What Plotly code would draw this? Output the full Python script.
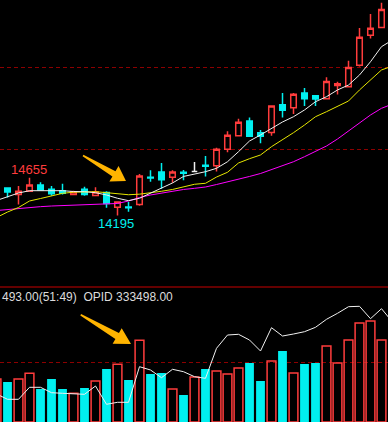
import math
import plotly.graph_objects as go

W, H = 388, 422

# ---------------- data ----------------
bars = list(range(36))
opens = [14445, 14530, 14450, 14490, 14565, 14515, 14495, 14450, 14515, 14440, 14475, 14295,
         14300, 14330, 14660, 14725, 14660, 14720, 14730, 14805, 14800, 15000, 15165, 15345,
         15200, 15205, 15540, 15505, 15685, 15650, 15615, 15775, 15760, 16020, 16385, 16480]
highs = [14505, 14535, 14555, 14655, 14600, 14555, 14580, 14495, 14545, 14540, 14490, 14360,
         14360, 14700, 14745, 14835, 14745, 14750, 14845, 14920, 15020, 15220, 15370, 15385,
         15235, 15530, 15685, 15685, 15745, 15650, 15875, 15820, 16075, 16475, 16645, 16780]
lows = [14435, 14415, 14330, 14485, 14495, 14435, 14450, 14445, 14435, 14440, 14290, 14195,
        14240, 14315, 14605, 14520, 14595, 14625, 14725, 14670, 14730, 14965, 15155, 15150,
        15075, 15165, 15385, 15430, 15525, 15525, 15605, 15665, 15755, 16005, 16345, 16475]
closes = [14485, 14480, 14490, 14565, 14505, 14460, 14465, 14485, 14450, 14480, 14340, 14360,
          14290, 14675, 14650, 14630, 14725, 14710, 14730, 14795, 15000, 15170, 15330, 15160,
          15160, 15525, 15475, 15670, 15615, 15610, 15825, 15795, 15995, 16360, 16470, 16700]

line_x = list(range(37))
ma5 = [14378, 14427, 14469, 14497, 14499, 14497, 14497, 14487, 14485, 14473, 14445, 14405,
       14376, 14405, 14465, 14524, 14591, 14670, 14696, 14728, 14769, 14849, 14971, 15101,
       15174, 15255, 15332, 15396, 15478, 15578, 15639, 15721, 15781, 15903, 16064, 16247, 16328]
ma10 = [14171, 14238, 14293, 14372, 14402, 14429, 14465, 14479, 14485, 14485, 14473, 14465,
        14448, 14455, 14469, 14490, 14512, 14540, 14575, 14587, 14663, 14721, 14834, 14886,
        14931, 15032, 15113, 15202, 15295, 15396, 15457, 15518, 15587, 15721, 15842, 15964, 16012]
ma20 = [14256, 14269, 14281, 14293, 14303, 14311, 14315, 14320, 14321, 14326, 14332, 14342,
        14372, 14414, 14445, 14469, 14490, 14512, 14526, 14542, 14572, 14603, 14633, 14670,
        14706, 14755, 14797, 14849, 14910, 14971, 15040, 15125, 15222, 15320, 15417, 15498, 15550]

volume = [43000, 40000, 43000, 48700, 33000, 43000, 33000, 28700, 34000, 41000, 53000, 57700,
          42000, 81700, 48000, 49000, 33000, 27000, 45000, 53000, 51000, 48000, 54000, 59000,
          41000, 61000, 71000, 49000, 58000, 59000, 76000, 59000, 82000, 99000, 101000, 82000]
open_interest = [315498, 314173, 314173, 317173, 317173, 315823, 315673, 315498, 315423, 317498,
                 312923, 313423, 313423, 322323, 321498, 319573, 321673, 321073, 319823, 319423,
                 326923, 330248, 330423, 328998, 326248, 332073, 329998, 330498, 331073, 332173,
                 334173, 335673, 337323, 337423, 334323, 336823, 333498]

high_label = "14655"
low_label = "14195"
info_text = "493.00(51:49)\u00a0\u00a0OPID 333498.00"
price_grid = [15000, 16000]
volume_grid = [60000]

# ---------------- style ----------------
RED = "#ff3c3c"
CYAN = "#00f0f0"
WHITE = "#f0f0f0"
YELLOW = "#e6e600"
MAGENTA = "#ff00ff"
GRID = "#8c0000"
BORDER = "#c80000"
ARROW = "#ffb400"
FONT = "Liberation Sans, Arial, sans-serif"

SPLIT = 1 - 287 / H

fig = go.Figure()


def subset(idx):
    return dict(x=[bars[i] for i in idx], open=[opens[i] for i in idx],
                high=[highs[i] for i in idx], low=[lows[i] for i in idx],
                close=[closes[i] for i in idx])


up = [i for i in bars if closes[i] > opens[i]]
dn = [i for i in bars if closes[i] < opens[i]]
fl = [i for i in bars if closes[i] == opens[i]]

for idx, col, fill in [(up, RED, "rgba(0,0,0,0)"), (dn, CYAN, CYAN), (fl, WHITE, WHITE)]:
    if not idx:
        continue
    fig.add_trace(go.Candlestick(
        **subset(idx), xaxis="x", yaxis="y", whiskerwidth=0,
        increasing=dict(line=dict(color=col, width=1.5), fillcolor=fill),
        decreasing=dict(line=dict(color=col, width=1.5), fillcolor=fill),
        showlegend=False, hoverinfo="skip"))

for vals, col in [(ma20, MAGENTA), (ma10, YELLOW), (ma5, WHITE)]:
    fig.add_trace(go.Scatter(x=line_x, y=vals, mode="lines", xaxis="x", yaxis="y",
                             line=dict(color=col, width=1), showlegend=False, hoverinfo="skip"))

vol_up = [closes[i] >= opens[i] for i in bars]
fig.add_trace(go.Bar(
    x=bars, y=volume, xaxis="x", yaxis="y2", width=0.8,
    marker=dict(color=["rgba(0,0,0,0)" if u else CYAN for u in vol_up],
                line=dict(color=[RED if u else CYAN for u in vol_up],
                          width=[1.5 if u else 0 for u in vol_up])),
    showlegend=False, hoverinfo="skip"))

fig.add_trace(go.Scatter(x=line_x, y=open_interest, mode="lines", xaxis="x", yaxis="y3",
                         line=dict(color=WHITE, width=1), showlegend=False, hoverinfo="skip"))


# ---------------- decorations ----------------
def P(x, y):
    return x / W, 1 - y / H


def arrow_path(tail, tip, head_len, head_half, shaft_half, tail_half):
    dx, dy = tip[0] - tail[0], tip[1] - tail[1]
    L = math.hypot(dx, dy)
    ux, uy = dx / L, dy / L
    nx, ny = -uy, ux
    bx, by = tip[0] - head_len * ux, tip[1] - head_len * uy
    pts = [
        (tail[0] - tail_half * nx, tail[1] - tail_half * ny),
        (bx - shaft_half * nx, by - shaft_half * ny),
        (bx - head_half * nx, by - head_half * ny),
        tip,
        (bx + head_half * nx, by + head_half * ny),
        (bx + shaft_half * nx, by + shaft_half * ny),
        (tail[0] + tail_half * nx, tail[1] + tail_half * ny),
    ]
    s = ""
    for k, (x, y) in enumerate(pts):
        px_, py_ = P(x, y)
        s += ("M" if k == 0 else "L") + f"{px_:.5f},{py_:.5f} "
    return s + "Z"


shapes = [
    dict(type="line", xref="paper", yref="paper", x0=0, x1=1, y0=SPLIT, y1=SPLIT,
         line=dict(color=BORDER, width=1)),
    dict(type="path", xref="paper", yref="paper", fillcolor=ARROW, line=dict(width=0),
         path=arrow_path((83, 155.5), (126, 181), 14, 9, 3, 0.8)),
    dict(type="path", xref="paper", yref="paper", fillcolor=ARROW, line=dict(width=0),
         path=arrow_path((80.7, 314.7), (131, 344), 16, 9, 3.5, 0.8)),
]

annotations = [
    dict(text=high_label, xref="paper", yref="paper", x=P(28.5, 0)[0], y=P(0, 169.3)[1],
         xanchor="center", yanchor="middle", showarrow=False,
         font=dict(family=FONT, size=13, color=RED)),
    dict(text=low_label, xref="paper", yref="paper", x=P(116.2, 0)[0], y=P(0, 223.7)[1],
         xanchor="center", yanchor="middle", showarrow=False,
         font=dict(family=FONT, size=13, color=CYAN)),
    dict(text=info_text, xref="paper", yref="paper", x=0, y=P(0, 296.5)[1],
         xanchor="left", yanchor="middle", showarrow=False,
         font=dict(family=FONT, size=12, color="#dcdcdc")),
]

x_lo = (0 + 3.5) / 11
x_hi = (W + 3.5) / 11

fig.update_layout(
    width=W, height=H, margin=dict(l=0, r=0, t=0, b=0),
    paper_bgcolor="black", plot_bgcolor="black",
    boxgap=0.28, barmode="overlay",
    xaxis=dict(range=[x_lo, x_hi], visible=False, rangeslider=dict(visible=False),
               anchor="y2", fixedrange=True),
    yaxis=dict(domain=[SPLIT, 1], range=[13327, 16814], tickvals=price_grid,
               showticklabels=False, showgrid=True, gridcolor=GRID, griddash="4px,3px",
               gridwidth=1, zeroline=False, showline=False, ticks=""),
    yaxis2=dict(domain=[0, SPLIT], range=[0, 135000], tickvals=volume_grid,
                showticklabels=False, showgrid=True, gridcolor=GRID, griddash="4px,3px",
                gridwidth=1, zeroline=False, showline=False, ticks=""),
    yaxis3=dict(domain=[0, SPLIT], range=[308498, 342248], overlaying="y2",
                visible=False, showgrid=False, zeroline=False),
    shapes=shapes, annotations=annotations, showlegend=False,
)

fig.write_html("out.html", config=dict(displayModeBar=False),
               post_script="document.body.style.margin='0';document.body.style.background='black';")
